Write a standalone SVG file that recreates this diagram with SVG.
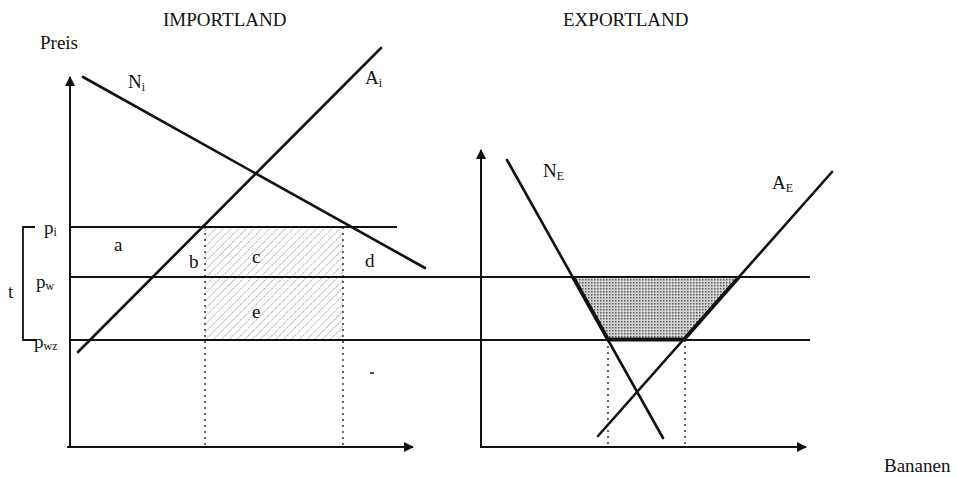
<svg xmlns="http://www.w3.org/2000/svg" width="957" height="477" viewBox="0 0 957 477">
<style>
text{font-family:"Liberation Serif","Times New Roman",serif;fill:#111;font-size:19px}
.ttl{font-size:19px}
.sub{font-size:12px}
.ax{stroke:#111;stroke-width:2;fill:none}
.cv{stroke:#111;stroke-width:2.6;fill:none;stroke-linecap:round}
.pl{stroke:#111;stroke-width:2;fill:none}
.dot{stroke:#111;stroke-width:1.3;stroke-dasharray:2 4;fill:none}
</style>
<defs>
<marker id="arr" viewBox="0 0 10 10" refX="9" refY="5" markerWidth="5" markerHeight="5" orient="auto" markerUnits="strokeWidth">
<path d="M0,0 L10,5 L0,10 z" fill="#111"/>
</marker>
<pattern id="hatch" patternUnits="userSpaceOnUse" width="5.5" height="5.5" patternTransform="rotate(45)">
<line x1="0" y1="0" x2="0" y2="5.5" stroke="#666" stroke-width="1.1" stroke-dasharray="1.5 1"/>
</pattern>
<pattern id="stip" patternUnits="userSpaceOnUse" width="3" height="3">
<rect width="3" height="3" fill="#d4d4d4"/>
<rect x="0" y="0" width="1.5" height="1.5" fill="#5a5a5a"/>
</pattern>
</defs>

<g id="titles">
<text class="ttl" x="163" y="26">IMPORTLAND</text>
<text class="ttl" x="563" y="26">EXPORTLAND</text>
<text x="40" y="49">Preis</text>
<text x="884" y="472">Bananen</text>
</g>

<g id="import-areas">
<rect x="205" y="227" width="138" height="113" fill="url(#hatch)"/>
</g>

<g id="export-area">
<polygon points="573,277 739,277 684,340 608,340" fill="url(#stip)"/>
</g>

<g id="connectors">
<line class="ax" x1="70" y1="448" x2="70" y2="77" marker-end="url(#arr)"/>
<line class="ax" x1="67" y1="447" x2="413" y2="447" marker-end="url(#arr)"/>
<line class="ax" x1="481" y1="448" x2="481" y2="150" marker-end="url(#arr)"/>
<line class="ax" x1="481" y1="447" x2="806" y2="447" marker-end="url(#arr)"/>
<line class="pl" x1="70" y1="227" x2="397" y2="227"/>
<line class="pl" x1="70" y1="277" x2="810" y2="277"/>
<line class="pl" x1="70" y1="340" x2="810" y2="340"/>
<line class="dot" x1="205" y1="227" x2="205" y2="447"/>
<line class="dot" x1="343" y1="227" x2="343" y2="447"/>
<line class="dot" x1="608" y1="340" x2="608" y2="447"/>
<line class="dot" x1="685" y1="340" x2="685" y2="447"/>
<line class="cv" x1="83" y1="77" x2="425" y2="268"/>
<line class="cv" x1="78" y1="352" x2="381" y2="48"/>
<line class="cv" x1="507" y1="160" x2="663" y2="438"/>
<line class="cv" x1="832" y1="172" x2="598" y2="436"/>
<polyline points="573,277 608,339.5 684,339.5 739,277" fill="none" stroke="#111" stroke-width="3.8" stroke-linejoin="round"/>
<polyline points="35,227 23,227 23,340 36,340" fill="none" stroke="#111" stroke-width="1.8"/>
<line x1="370" y1="373" x2="374" y2="373" stroke="#111" stroke-width="1.5"/>
</g>

<g id="labels">
<text x="44" y="234">p<tspan class="sub" dy="2">i</tspan></text>
<text x="36" y="288">p<tspan class="sub" dy="2">w</tspan></text>
<text x="34" y="348">p<tspan class="sub" dy="2">wz</tspan></text>
<text x="8" y="298">t</text>
<text x="114" y="251">a</text>
<text x="189" y="268">b</text>
<text x="252" y="263">c</text>
<text x="365" y="267">d</text>
<text x="252" y="318">e</text>
<text x="128" y="88">N<tspan class="sub" dy="3">i</tspan></text>
<text x="365" y="84">A<tspan class="sub" dy="3">i</tspan></text>
<text x="543" y="177">N<tspan class="sub" dy="3">E</tspan></text>
<text x="772" y="189">A<tspan class="sub" dy="3">E</tspan></text>
</g>
</svg>
